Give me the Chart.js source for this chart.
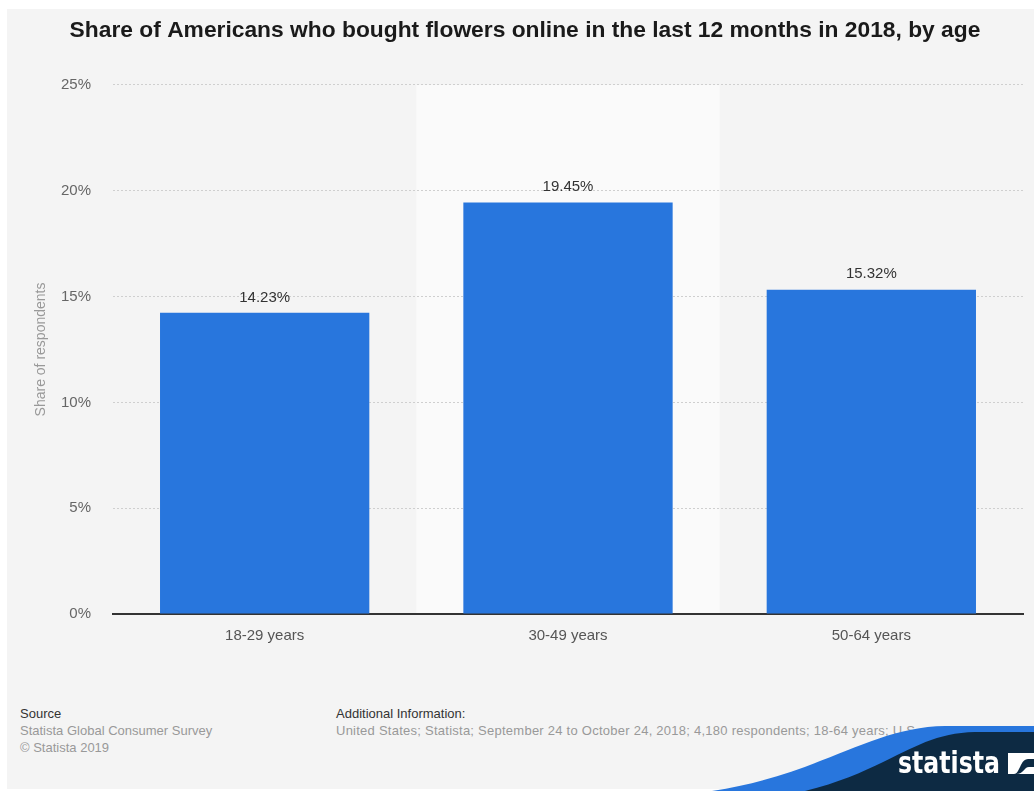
<!DOCTYPE html>
<html><head><meta charset="utf-8">
<script src="https://cdn.jsdelivr.net/npm/chart.js@4.4.1/dist/chart.umd.min.js"></script>
<style>
html,body{margin:0;padding:0}
body{background:#fff;width:1034px;height:791px;overflow:hidden;position:relative;font-family:"Liberation Sans",Arial,Helvetica,sans-serif}
#panel{position:absolute;left:7px;top:9px;width:1027px;height:780px;background:#f4f4f4}
#wrap{position:absolute;left:0;top:0;width:1034px;height:680px}
.ft{position:absolute;font-size:13px;line-height:17px;white-space:nowrap}
.dark{color:#333}.light{color:#999}
#logo{position:absolute;left:0;top:0}
</style></head>
<body>
<div id="panel"></div>
<div id="wrap"><canvas id="c"></canvas></div>
<div class="ft dark" style="left:20px;top:705px">Source</div>
<div class="ft light" style="left:20px;top:722px">Statista Global Consumer Survey</div>
<div class="ft light" style="left:20px;top:739px">© Statista 2019</div>
<div class="ft dark" style="left:336px;top:705px">Additional Information:</div>
<div class="ft light" style="left:336px;top:722px;letter-spacing:0.25px">United States; Statista; September 24 to October 24, 2018; 4,180 respondents; 18-64 years; U.S.</div>
<svg id="logo" width="1034" height="791" viewBox="0 0 1034 791">
  <path d="M712 791 C820 775 870 727 945 726 L1034 726 L1034 791 Z" fill="#2876dd"/>
  <path d="M805 791 C890 770 915 733 975 732 L1034 732 L1034 791 Z" fill="#0d2a43"/>
  <text x="898" y="773" fill="#fff" font-family="Liberation Sans Narrow, DejaVu Sans Condensed, Liberation Sans" font-weight="bold" font-size="30" textLength="102" lengthAdjust="spacingAndGlyphs">statista</text>
  <rect x="1008" y="753" width="26" height="21" fill="#fff"/>
  <path d="M1008 774 L1014 774 C1020 774 1020 759 1028 759 L1034 759 L1034 767 L1029 767 C1024 767 1024 774 1016 774 Z" fill="#0d2a43"/>
</svg>
<script>
const categories = ['18-29 years', '30-49 years', '50-64 years'];
const shares = [14.23, 19.45, 15.32];
const yTicks = [0, 5, 10, 15, 20, 25];
const highlightIndex = 1;
const titleText = 'Share of Americans who bought flowers online in the last 12 months in 2018, by age';
const yTitle = 'Share of respondents';

const bandPlugin = {
  id: 'band',
  beforeDraw(chart) {
    const a = chart.chartArea, x = chart.scales.x, ctx = chart.ctx;
    const w = (a.right - a.left) / categories.length;
    const c = x.getPixelForValue(highlightIndex);
    ctx.save();
    ctx.fillStyle = '#fafafa';
    ctx.fillRect(c - w / 2, a.top, w, a.bottom - a.top);
    ctx.restore();
  }
};
const labelPlugin = {
  id: 'vals',
  afterDatasetsDraw(chart) {
    const ctx = chart.ctx;
    const meta = chart.getDatasetMeta(0);
    ctx.save();
    ctx.font = '15px "Liberation Sans", Arial, sans-serif';
    ctx.fillStyle = '#333';
    ctx.textAlign = 'center';
    ctx.textBaseline = 'bottom';
    meta.data.forEach((bar, i) => {
      ctx.fillText(shares[i].toFixed(2) + '%', bar.x, bar.y - 8);
    });
    ctx.restore();
  }
};

new Chart(document.getElementById('c'), {
  type: 'bar',
  data: {
    labels: categories,
    datasets: [{
      data: shares,
      backgroundColor: '#2876dd',
      borderWidth: 0,
      barPercentage: 0.69,
      categoryPercentage: 1
    }]
  },
  options: {
    responsive: true,
    maintainAspectRatio: false,
    animation: false,
    devicePixelRatio: 1,
    layout: { padding: { left: 27, right: 11, top: 0, bottom: 0 } },
    plugins: {
      legend: { display: false },
      tooltip: { enabled: false },
      title: {
        display: true,
        text: titleText,
        color: '#1a1a1a',
        font: { family: '"Liberation Sans", Arial, sans-serif', size: 22.8, weight: 'bold', lineHeight: 1.2 },
        padding: { top: 17.3, bottom: 40.3 }
      }
    },
    scales: {
      x: {
        grid: { display: false, drawTicks: false },
        border: { display: true, color: '#333', width: 2 },
        ticks: { color: '#555', padding: 13, font: { family: '"Liberation Sans", Arial, sans-serif', size: 15 } },
        afterFit(s) { s.height = 66; }
      },
      y: {
        min: 0, max: 25,
        afterBuildTicks(s) { s.ticks = yTicks.map(v => ({ value: v })); },
        grid: {
          drawTicks: false,
          color: ctx => ctx.tick && ctx.tick.value === 0 ? 'rgba(0,0,0,0)' : '#cfcfcf',
          lineWidth: 1
        },
        border: { display: false, dash: [2, 2] },
        ticks: {
          color: '#666', padding: 22,
          font: { family: '"Liberation Sans", Arial, sans-serif', size: 15 },
          callback: v => v + '%'
        },
        title: {
          display: true, text: yTitle, color: '#999',
          font: { family: '"Liberation Sans", Arial, sans-serif', size: 14 },
          padding: { top: 6, bottom: 0 }
        },
        afterFit(s) { s.width = 86; }
      }
    }
  },
  plugins: [bandPlugin, labelPlugin]
});
</script>
</body></html>
